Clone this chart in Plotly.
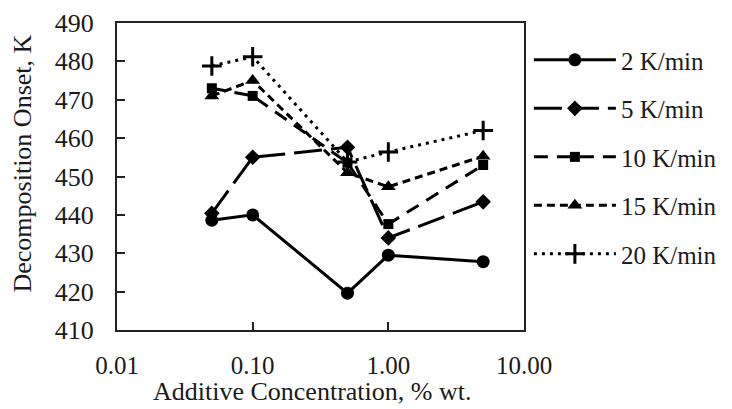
import plotly.graph_objects as go

conc = [0.05, 0.1, 0.5, 1.0, 5.0]
rate_2 = [438.6, 440.0, 419.6, 429.5, 427.8]
rate_5 = [440.4, 455.0, 457.6, 434.0, 443.4]
rate_10 = [473.0, 471.0, 453.6, 437.6, 453.0]
rate_15 = [471.0, 475.0, 451.0, 447.3, 455.3]
rate_20 = [478.8, 481.2, 453.8, 456.4, 462.0]

names = ["2 K/min", "5 K/min", "10 K/min", "15 K/min", "20 K/min"]
x_tickvals = [0.01, 0.1, 1, 10]
x_ticktext = ["0.01", "0.10", "1.00", "10.00"]
y_tickvals = [410, 420, 430, 440, 450, 460, 470, 480, 490]
x_title = "Additive Concentration, % wt."
y_title = "Decomposition Onset, K"

series = [rate_2, rate_5, rate_10, rate_15, rate_20]
styles = [
    dict(dash="solid", symbol="circle", size=13),
    dict(dash="28px,9px", symbol="diamond", size=12),
    dict(dash="14px,9px", symbol="square", size=10),
    dict(dash="8px,5px", symbol="triangle-up", size=13),
    dict(dash="3px,5px", symbol="cross-thin-open", size=14),
]

fig = go.Figure()
for i, (nm, ys, st) in enumerate(zip(names, series, styles)):
    marker = dict(symbol=st["symbol"], size=st["size"], color="black")
    if st["symbol"].startswith("cross-thin"):
        marker["line"] = dict(width=3, color="black")
    fig.add_trace(go.Scatter(
        x=conc, y=ys, name=nm, mode="lines+markers",
        line=dict(color="black", width=3, dash=st["dash"]),
        marker=marker, legendgroup=str(i),
    ))

# page body has an 8px margin, so the figure is drawn 8px smaller and offset
fam = "Liberation Serif, Times New Roman, serif"
tc = "#1a1a1a"
PW, PH = 407, 307
fig.update_layout(
    width=724, height=401,
    margin=dict(l=109, r=724 - 109 - PW, t=15, b=401 - 15 - PH, autoexpand=False),
    paper_bgcolor="white", plot_bgcolor="white",
    font=dict(family=fam, size=25, color=tc),
    showlegend=True,
    legend=dict(x=1.012, y=0.954, xanchor="left", yanchor="top",
                font=dict(family=fam, size=25, color=tc),
                itemwidth=82, tracegroupgap=13, traceorder="grouped",
                bgcolor="rgba(0,0,0,0)"),
    xaxis=dict(type="log", range=[-2, 1], tickvals=x_tickvals, ticktext=x_ticktext,
               showline=True, mirror=True, linecolor="#222", linewidth=2,
               ticks="inside", ticklen=8, tickwidth=2, tickcolor="#222",
               ticklabelstandoff=12, automargin=False,
               tickfont=dict(family=fam, size=25, color=tc),
               showgrid=False, zeroline=False),
    yaxis=dict(range=[410, 490], tickvals=y_tickvals,
               showline=True, mirror=True, linecolor="#222", linewidth=2,
               ticks="inside", ticklen=8, tickwidth=2, tickcolor="#222",
               ticklabelstandoff=16, automargin=False,
               tickfont=dict(family=fam, size=26, color=tc),
               showgrid=False, zeroline=False),
    annotations=[
        dict(text=x_title, xref="paper", yref="paper", x=(311.5 - 117) / PW,
             y=(330 - 391) / PH, xanchor="center", yanchor="middle",
             showarrow=False, font=dict(family=fam, size=26, color=tc)),
        dict(text=y_title, xref="paper", yref="paper", x=(22 - 117) / PW,
             y=(330 - 163.5) / PH, xanchor="center", yanchor="middle",
             textangle=-90, showarrow=False, font=dict(family=fam, size=26, color=tc)),
    ],
)
fig.write_html("out.html")
